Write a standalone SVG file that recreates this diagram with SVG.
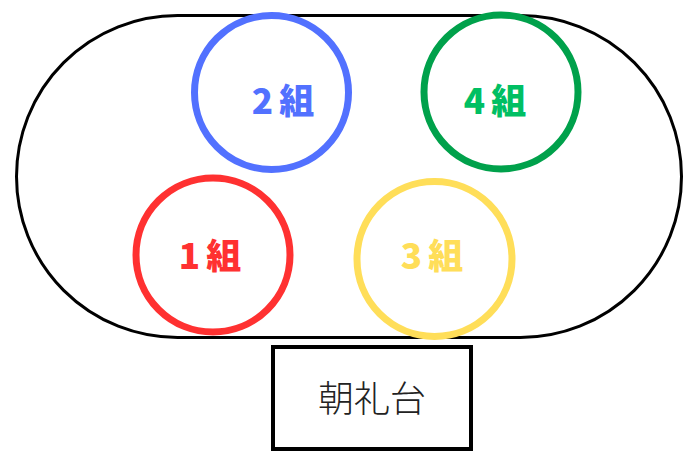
<svg xmlns="http://www.w3.org/2000/svg" width="683" height="452" viewBox="0 0 683 452">
<style>
.ring{fill:none;stroke-width:7}
.lbl{font-family:"Noto Sans CJK JP","Noto Sans",sans-serif;font-weight:900;font-size:35px;text-anchor:middle}
.stage{font-family:"Noto Sans CJK JP","Noto Sans",sans-serif;font-weight:300;font-size:36px;text-anchor:middle;fill:#222}
</style>
<rect width="683" height="452" fill="#fff"/>
<g id="track"><rect x="16.5" y="15.5" width="665" height="322" rx="161" ry="161" fill="none" stroke="#000" stroke-width="3"/></g>
<g id="g2"><circle class="ring" cx="271.5" cy="92.5" r="77" stroke="#5271FF"/><text class="lbl" x="283" y="114" fill="#5271FF">2<tspan dx="6">組</tspan></text></g>
<g id="g4"><circle class="ring" cx="501" cy="92" r="77" stroke="#00A14B"/><text class="lbl" x="495" y="114" fill="#00BF63">4<tspan dx="6">組</tspan></text></g>
<g id="g1"><circle class="ring" cx="213" cy="255" r="77" stroke="#FF3131"/><text class="lbl" x="210" y="269" fill="#FF3131">1<tspan dx="6">組</tspan></text></g>
<g id="g3"><circle class="ring" cx="434.5" cy="259" r="77.5" stroke="#FFDE59"/><text class="lbl" x="432" y="269" fill="#FFDE59">3<tspan dx="6">組</tspan></text></g>
<g id="stage"><rect x="273" y="347" width="198" height="102" fill="#fff" stroke="#000" stroke-width="4"/><text class="stage" x="372" y="412">朝礼台</text></g>
<g id="connectors"></g>
</svg>
